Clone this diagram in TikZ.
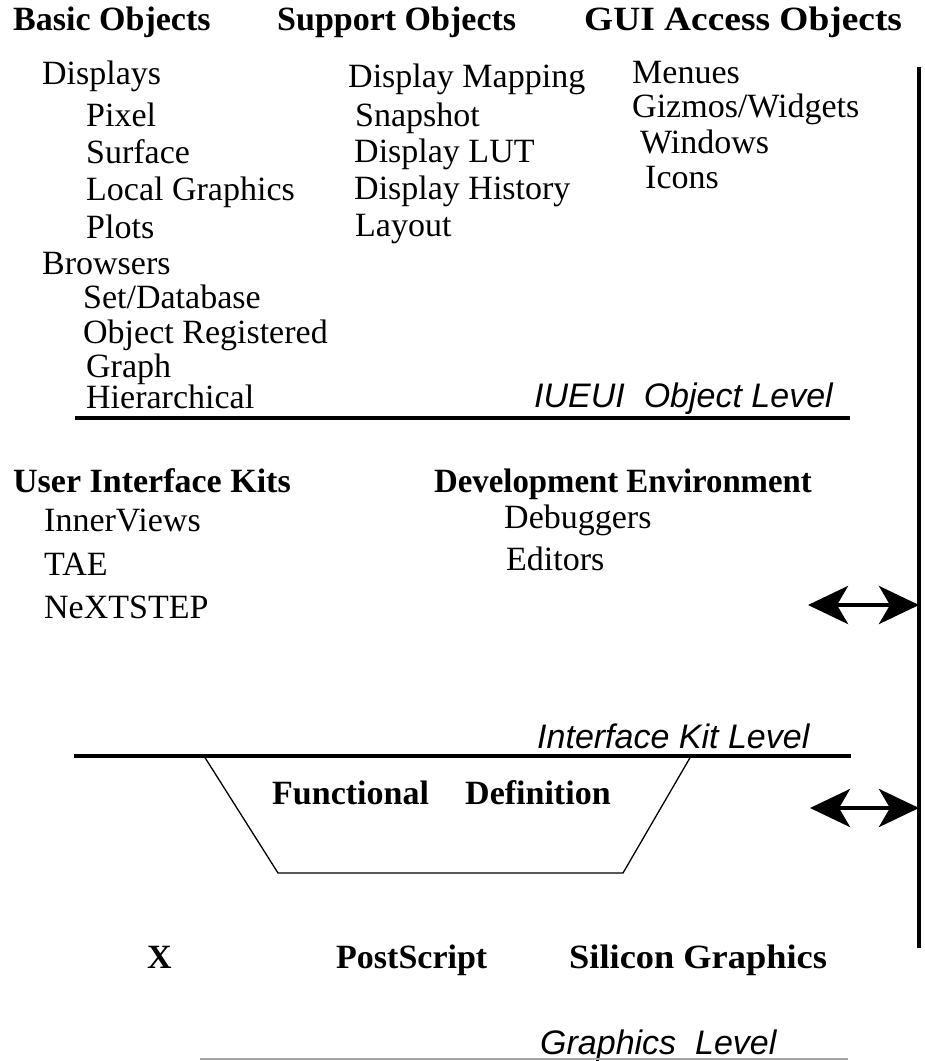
\documentclass[tikz,border=0pt]{standalone}
\usepackage{fontspec}
\usepackage{graphicx}
\setmainfont{Liberation Serif}
\newfontfamily\lvlfont{Liberation Sans}
\usetikzlibrary{arrows.meta}
\begin{document}
\begin{tikzpicture}[x=1pt,y=-1pt,
  txt/.style={anchor=base west, inner sep=0pt, font=\fontsize{34}{40}\selectfont},
  hdr/.style={anchor=base west, inner sep=0pt, font=\fontsize{34}{40}\selectfont\bfseries},
  lvl/.style={anchor=base west, inner sep=0pt, font=\lvlfont\itshape\fontsize{34}{40}\selectfont},
  levelline/.style={line width=4.5pt},
  thin/.style={line width=1.3pt},
  dblarrow/.style={line width=4.5pt, {Stealth[length=40pt,width=38pt,inset=11pt]}-{Stealth[length=40pt,width=38pt,inset=11pt]}}
]
\useasboundingbox (0,0) rectangle (925,1061);

% headers
\node[hdr] (basic) at (13,30) {Basic Objects};
\node[hdr] (support) at (277,30) {Support Objects};
\node[hdr] (gui) at (584,30) {\scalebox{1.1}[1]{GUI Access Objects}};

% column 1
\node[txt] (displays) at (42,84) {Displays};
\node[txt] (pixel) at (86,126) {Pixel};
\node[txt] (surface) at (86,163) {Surface};
\node[txt] (localg) at (86,200) {Local Graphics};
\node[txt] (plots) at (86,238) {Plots};
\node[txt] (browsers) at (42,274) {Browsers};
\node[txt] (setdb) at (83,308) {Set/Database};
\node[txt] (objreg) at (83,343) {Object Registered};
\node[txt] (graph) at (86,377) {Graph};
\node[txt] (hier) at (86,408) {Hierarchical};

% column 2
\node[txt] (dmap) at (348,87) {Display Mapping};
\node[txt] (snap) at (355,126) {Snapshot};
\node[txt] (dlut) at (354,162) {Display LUT};
\node[txt] (dhist) at (354,199) {Display History};
\node[txt] (layout) at (355,236) {Layout};

% column 3
\node[txt] (menues) at (632,83) {Menues};
\node[txt] (gizmos) at (632,117) {Gizmos/Widgets};
\node[txt] (windows) at (640,153) {Windows};
\node[txt] (icons) at (645,188) {Icons};

\node[lvl] (iueui) at (534,407) {IUEUI\ \ Object Level};
\draw[levelline] (75,418) -- (850,418);

% interface kits
\node[hdr] (uik) at (13,492) {User Interface Kits};
\node[hdr] (devenv) at (434,492) {\scalebox{0.965}[1]{Development Environment}};
\node[txt] (inner) at (44,531) {InnerViews};
\node[txt] (tae) at (44,575) {TAE};
\node[txt] (next) at (44,618) {NeXTSTEP};
\node[txt] (debug) at (504,528) {Debuggers};
\node[txt] (editors) at (506,570) {Editors};

\node[lvl] (ikl) at (537,748) {Interface Kit Level};
\draw[levelline] (74,756) -- (851,756);

% functional definition trapezoid
\coordinate (t1) at (204,756);
\coordinate (t2) at (278,873);
\coordinate (t3) at (623,873);
\coordinate (t4) at (691,756);
\draw[thin] (t1) -- (t2) -- (t3) -- (t4);
\node[hdr] (func) at (272,804) {Functional};
\node[hdr] (defn) at (465,804) {Definition};

% graphics level
\node[hdr] (x) at (147,968) {X};
\node[hdr] (ps) at (336,968) {PostScript};
\node[hdr] (sg) at (569,968) {\scalebox{1.07}[1]{Silicon Graphics}};
\node[lvl] (gl) at (540,1054) {Graphics\ \ Level};
\draw[line width=1.2pt, gray!70] (200,1059) -- (848,1059);

% vertical bar and arrows
\coordinate (vtop) at (919,67);
\coordinate (vbot) at (919,948);
\draw[line width=4pt] (vtop) -- (vbot);
\coordinate (a1l) at (808,605);
\coordinate (a1r) at (919,605);
\draw[dblarrow] (a1l) -- (a1r);
\coordinate (a2l) at (810,808);
\coordinate (a2r) at (919,808);
\draw[dblarrow] (a2l) -- (a2r);
\end{tikzpicture}
\end{document}
